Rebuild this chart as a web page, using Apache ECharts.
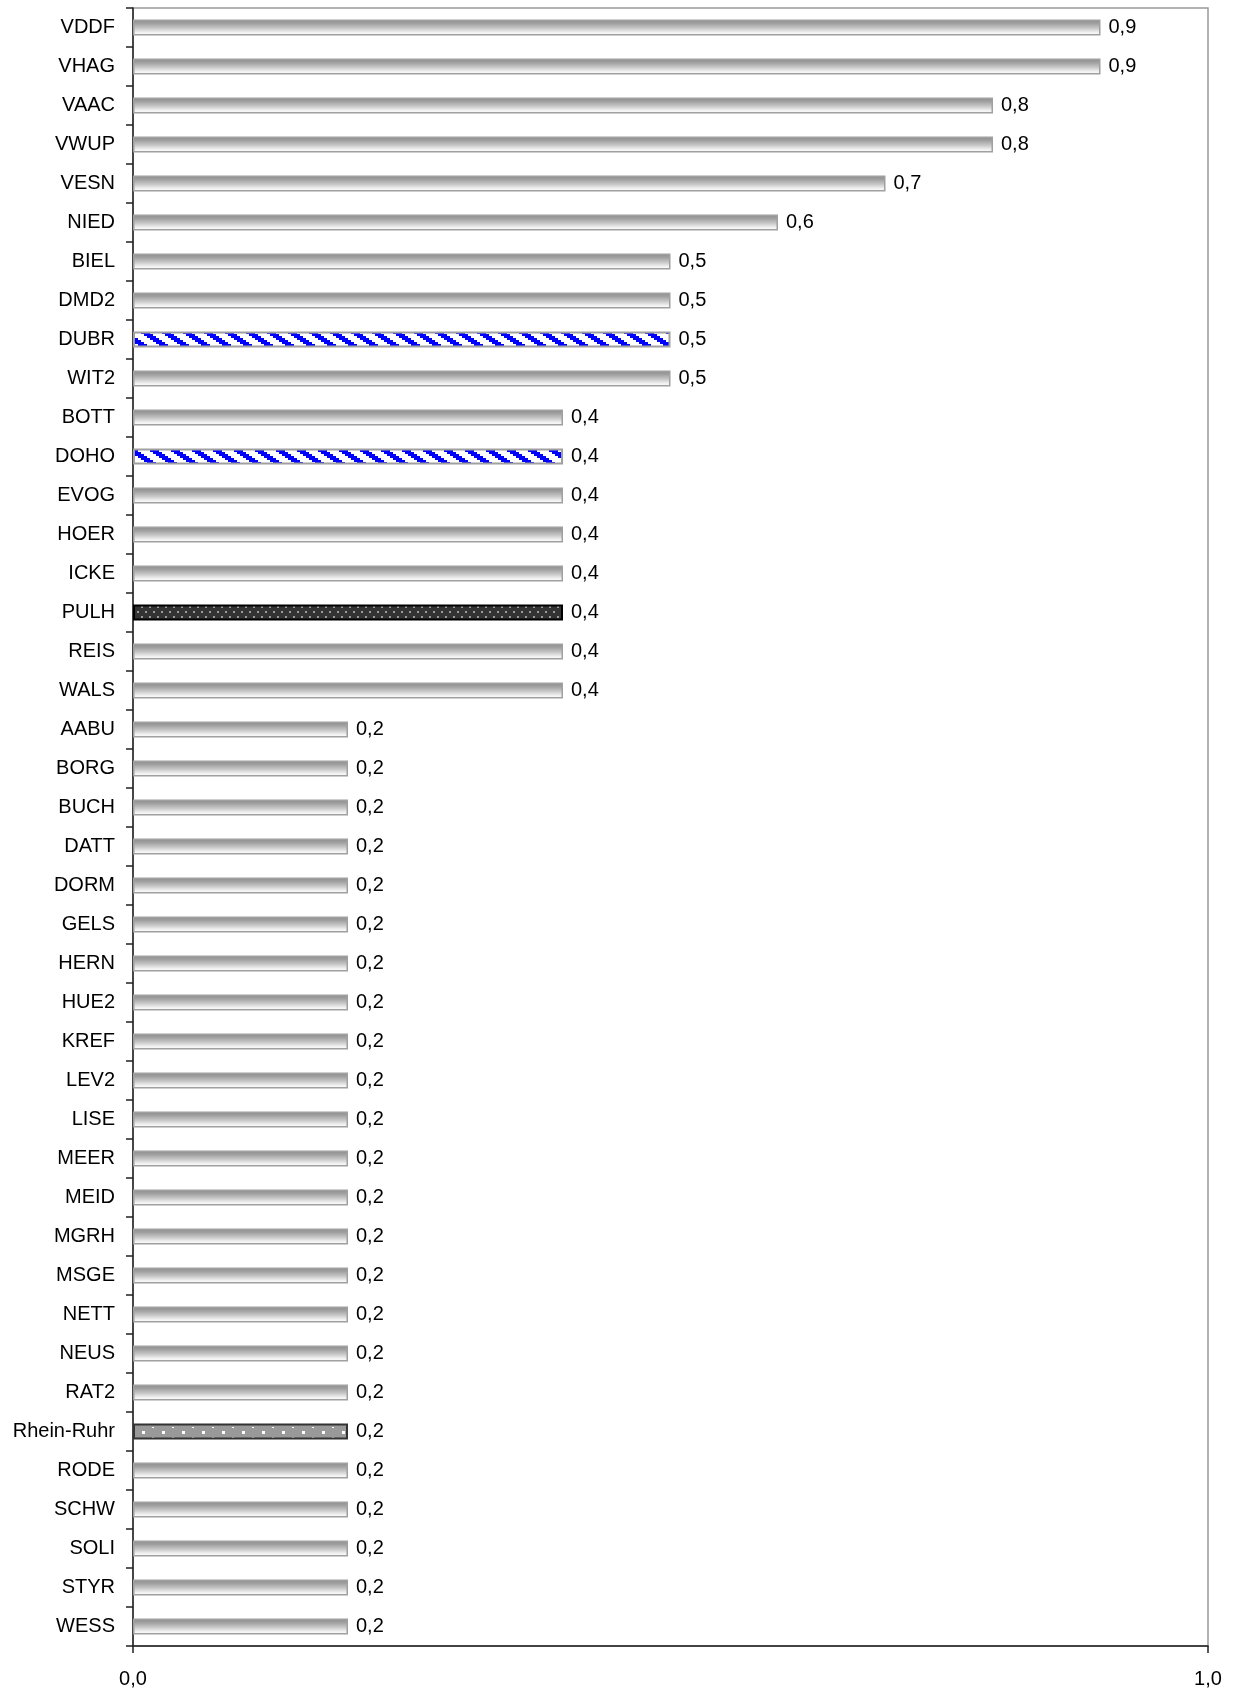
<!DOCTYPE html>
<html>
<head>
<meta charset="utf-8">
<script src="https://cdn.jsdelivr.net/npm/echarts@6/dist/echarts.min.js"></script>
<style>
html,body{margin:0;padding:0;background:#fff;}
#chart{width:1235px;height:1691px;}
</style>
</head>
<body>
<div id="chart"></div>
<script>
const categories = ['VDDF','VHAG','VAAC','VWUP','VESN','NIED','BIEL','DMD2','DUBR','WIT2','BOTT','DOHO','EVOG','HOER','ICKE','PULH','REIS','WALS','AABU','BORG','BUCH','DATT','DORM','GELS','HERN','HUE2','KREF','LEV2','LISE','MEER','MEID','MGRH','MSGE','NETT','NEUS','RAT2','Rhein-Ruhr','RODE','SCHW','SOLI','STYR','WESS'];
const values = [0.9,0.9,0.8,0.8,0.7,0.6,0.5,0.5,0.5,0.5,0.4,0.4,0.4,0.4,0.4,0.4,0.4,0.4,0.2,0.2,0.2,0.2,0.2,0.2,0.2,0.2,0.2,0.2,0.2,0.2,0.2,0.2,0.2,0.2,0.2,0.2,0.2,0.2,0.2,0.2,0.2,0.2];
const xTickLabels = ['0,0','1,0'];
const hatchedNames = ['DUBR','DOHO'];
const darkDotNames = ['PULH'];
const regionNames = ['Rhein-Ruhr'];

function makeCanvas(w,h){const c=document.createElement('canvas');c.width=w;c.height=h;return c;}
// blue diagonal hatch (stair-stepped)
const hatch = makeCanvas(21,14);
(function(){const g=hatch.getContext('2d');g.fillStyle='#fff';g.fillRect(0,0,21,14);g.fillStyle='#0000ff';
 for(let y=0;y<14;y+=2){const x0=Math.round(y*1.5);
   for(const o of [-21,0,21]){g.fillRect(o+x0,y,9,2);} }})();
// dark dotted
const darkDots = makeCanvas(8,10);
(function(){const g=darkDots.getContext('2d');g.fillStyle='#333';g.fillRect(0,0,8,10);g.fillStyle='#9a9a9a';g.fillRect(1,1,2,2);g.fillRect(5,6,2,2);})();
// gray with white dots
const grayDots = makeCanvas(20,10);
(function(){const g=grayDots.getContext('2d');g.fillStyle='#999';g.fillRect(0,0,20,10);g.fillStyle='#fff';g.fillRect(2,1,3,3);g.fillRect(12,7,2,1);})();

const gradient = new echarts.graphic.LinearGradient(0,0,0,1,[
  {offset:0,color:'#8c8c8c'},{offset:0.25,color:'#a0a0a0'},{offset:0.55,color:'#c8c8c8'},{offset:0.8,color:'#f0f0f0'},{offset:1,color:'#ffffff'}]);

const data = values.map((v,i)=>{
  const n = categories[i];
  let itemStyle = {color: gradient, borderColor:'#a0a0a0', borderWidth:1.5};
  if (hatchedNames.includes(n)) itemStyle = {color:{image:hatch,repeat:'repeat'}, borderColor:'#a0a0a0', borderWidth:2};
  else if (darkDotNames.includes(n)) itemStyle = {color:{image:darkDots,repeat:'repeat'}, borderColor:'#000', borderWidth:2};
  else if (regionNames.includes(n)) itemStyle = {color:{image:grayDots,repeat:'repeat'}, borderColor:'#333', borderWidth:2};
  return {value:v, itemStyle};
});

const FONT = "'Liberation Sans', Arial, sans-serif";
const chart = echarts.init(document.getElementById('chart'), null, {renderer:'canvas'});
chart.setOption({
  animation:false,
  grid:{left:133, top:8, right:27, bottom:45, show:true, borderColor:'#999', borderWidth:1.5, backgroundColor:'transparent'},
  xAxis:{type:'value', min:0, max:1, interval:1,
    axisLine:{show:true, lineStyle:{color:'#222', width:1.5}},
    axisTick:{show:true, length:7, lineStyle:{color:'#222', width:1.5}},
    splitLine:{show:false},
    axisLabel:{margin:23, fontSize:20, color:'#000', fontFamily:FONT, formatter:(v)=> xTickLabels[Math.round(v)]}
  },
  yAxis:{type:'category', data:categories, inverse:true,
    axisLine:{show:true, lineStyle:{color:'#222', width:1.5}},
    axisTick:{show:true, length:7, lineStyle:{color:'#222', width:1.5}},
    axisLabel:{margin:18, fontSize:20, color:'#000', fontFamily:FONT}
  },
  series:[{type:'bar', data:data, barWidth:16,
    label:{show:true, position:'right', distance:8, fontSize:20, color:'#000', fontFamily:FONT,
      formatter:(p)=> p.value.toFixed(1).replace('.',',')}
  }]
});
</script>
</body>
</html>
